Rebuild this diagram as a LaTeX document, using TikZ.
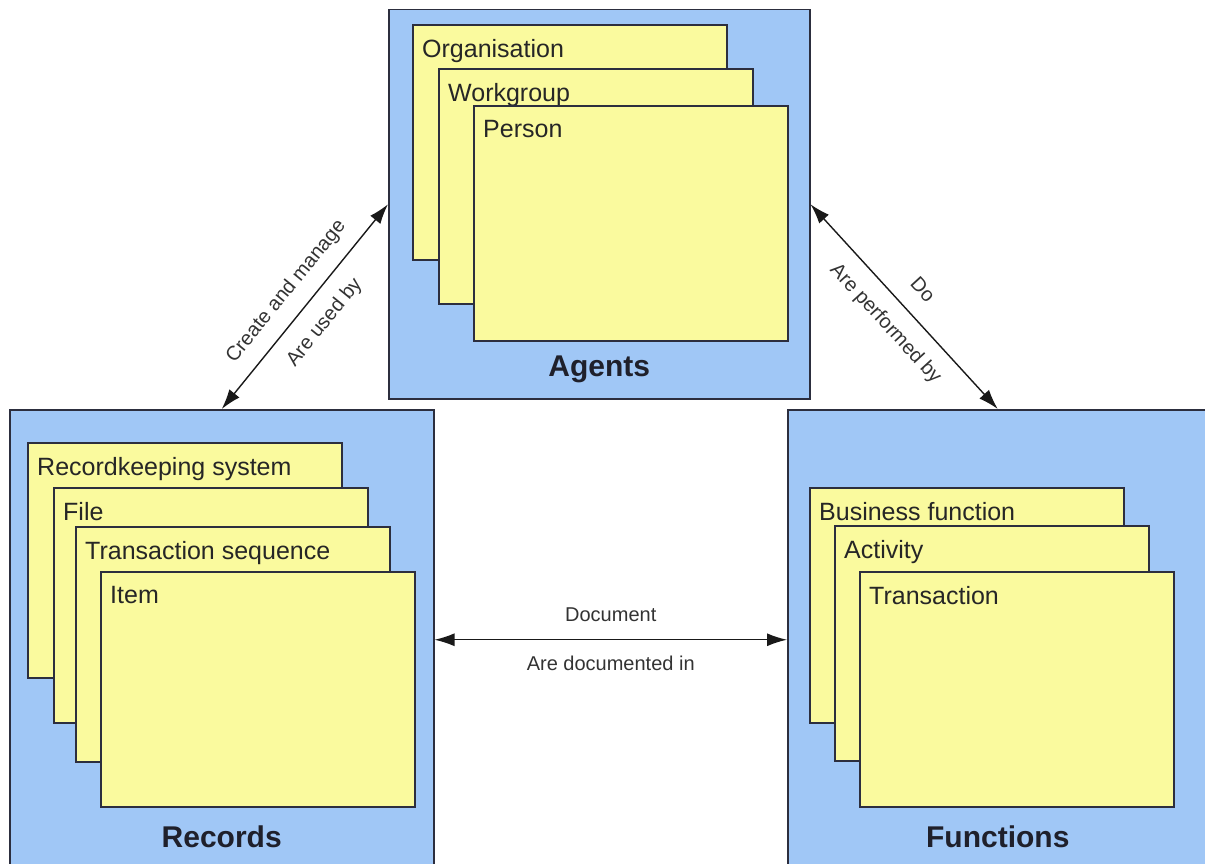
\documentclass[tikz,border=0pt]{standalone}
\usepackage{fontspec}
\setmainfont{Liberation Sans}
\usetikzlibrary{arrows.meta}
\definecolor{paneblue}{RGB}{160,199,246}
\definecolor{sheetyellow}{RGB}{250,250,158}
\definecolor{edgegrey}{RGB}{44,46,62}
\tikzset{
	pane/.style={draw=edgegrey, line width=1.5pt, fill=paneblue, anchor=north west, inner sep=0pt},
	sheet/.style={draw=edgegrey, line width=1.7pt, fill=sheetyellow, anchor=north west, inner sep=0pt,
		minimum width=314pt, minimum height=235pt},
	sheettext/.style={anchor=north west, inner xsep=10pt, inner ysep=15pt,
		font=\fontsize{25}{30}\selectfont, text=black!85},
	panetitle/.style={anchor=base, font=\fontsize{30}{36}\selectfont\bfseries, text=edgegrey!70!black},
	rel/.style={<->, >={Latex[length=20pt,width=13pt]}, line width=1.4pt, draw=black!90},
	rellabel/.style={font=\fontsize{20}{24}\selectfont, text=black!80, inner sep=0pt,
		text height=14pt, text depth=4pt}
}
\newcommand{\sheet}[4]{%
	\node[sheet] (#1) at (#2,#3) {};
	\node[sheettext] (#1-t) at (#1.north west) {#4};}

\begin{document}
\begin{tikzpicture}[x=1pt,y=-1pt]
	\clip (0,0) rectangle (1205,864);
	\node[pane, minimum width=421pt, minimum height=389pt] (agents) at (388,9) {};
	\node[pane, minimum width=424pt, minimum height=460pt] (records) at (9,409) {};
	\node[pane, minimum width=420pt, minimum height=460pt] (functions) at (787,409) {};
	\sheet{org}{412}{24}{Organisation}
	\sheet{workgroup}{438}{68}{Workgroup}
	\sheet{person}{473}{105}{Person}
	\sheet{rksystem}{27}{442}{Recordkeeping system}
	\sheet{file}{53}{487}{File}
	\sheet{tseq}{75}{526}{Transaction sequence}
	\sheet{item}{100}{571}{Item}
	\sheet{bfunction}{809}{487}{Business function}
	\sheet{activity}{834}{525}{Activity}
	\sheet{transaction}{859}{571}{Transaction}
	\node[panetitle] (agents-t) at ([yshift=23pt]agents.south) {Agents};
	\node[panetitle] (records-t) at ([yshift=23pt]records.south) {Records};
	\node[panetitle] (functions-t) at ([yshift=23pt]functions.south) {Functions};
	\draw[rel] (records.north) -- node[rellabel, sloped, above=14pt] {Create and manage}
		node[rellabel, sloped, below=16pt] {Are used by} (agents.west);
	\draw[rel] (agents.east) -- node[rellabel, sloped, above=14pt] {Do}
		node[rellabel, sloped, below=16pt] {Are performed by} (functions.north);
	\draw[rel] (records.east) -- node[rellabel, above=14pt] {Document}
		node[rellabel, below=16pt] {Are documented in} (functions.west);
\end{tikzpicture}
\end{document}
